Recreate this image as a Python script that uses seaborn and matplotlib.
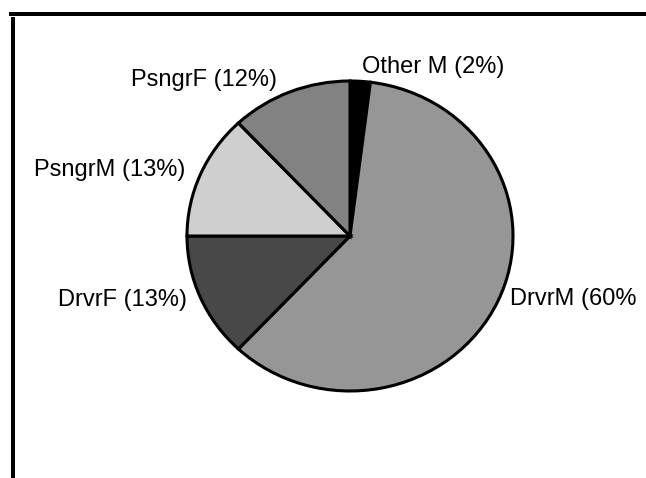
import matplotlib
matplotlib.use("Agg")
import matplotlib.pyplot as plt
from matplotlib.patches import Rectangle
import seaborn as sns

# slice data, clockwise from 12 o'clock
categories = ["Other M", "DrvrM", "DrvrF", "PsngrM", "PsngrF"]
shares = [2, 60, 13, 13, 12]
label_texts = ["Other M (2%)", "DrvrM (60%", "DrvrF (13%)", "PsngrM (13%)", "PsngrF (12%)"]

# styling (halftone greys of the scan)
slice_colors = ["#000000", "#969696", "#484848", "#cfcfcf", "#828282"]
label_pos = [(0.074, 1.09, "left"), (0.982, -0.406, "left"), (-1.0, -0.413, "right"),
             (-1.012, 0.426, "right"), (-0.448, 1.006, "right")]

sns.set_theme(style="white")
plt.rcParams["font.family"] = ["Liberation Sans", "DejaVu Sans"]

W, H = 646, 478
fig = plt.figure(figsize=(W / 100, H / 100), dpi=100)
fig.patch.set_facecolor("white")

# pie centre (350, 236) px, radius 163 px across, 155 px down (scan is a bit stretched)
cx, cy, rx, ry = 350, 236, 163, 155
ax = fig.add_axes([(cx - 1.25 * rx) / W, (H - cy - 1.25 * ry) / H, 2.5 * rx / W, 2.5 * ry / H])

wedges, _ = ax.pie(shares, colors=slice_colors, startangle=90, counterclock=False,
                   wedgeprops=dict(edgecolor="black", linewidth=2.2))
ax.set_aspect("auto")
ax.set_xlim(-1.25, 1.25)
ax.set_ylim(-1.25, 1.25)
ax.axis("off")

for txt, (x, y, ha) in zip(label_texts, label_pos):
    ax.text(x, y, txt, ha=ha, va="center", fontsize=17, color="black", clip_on=False)

# scanned frame: thick top rule and left rule
fig.add_artist(Rectangle((9 / W, (H - 16) / H), (W - 9) / W, 4 / H,
                         transform=fig.transFigure, color="black", lw=0))
fig.add_artist(Rectangle((11 / W, 0), 4 / W, (H - 17) / H,
                         transform=fig.transFigure, color="black", lw=0))

fig.savefig("out.png", dpi=100, facecolor="white")
